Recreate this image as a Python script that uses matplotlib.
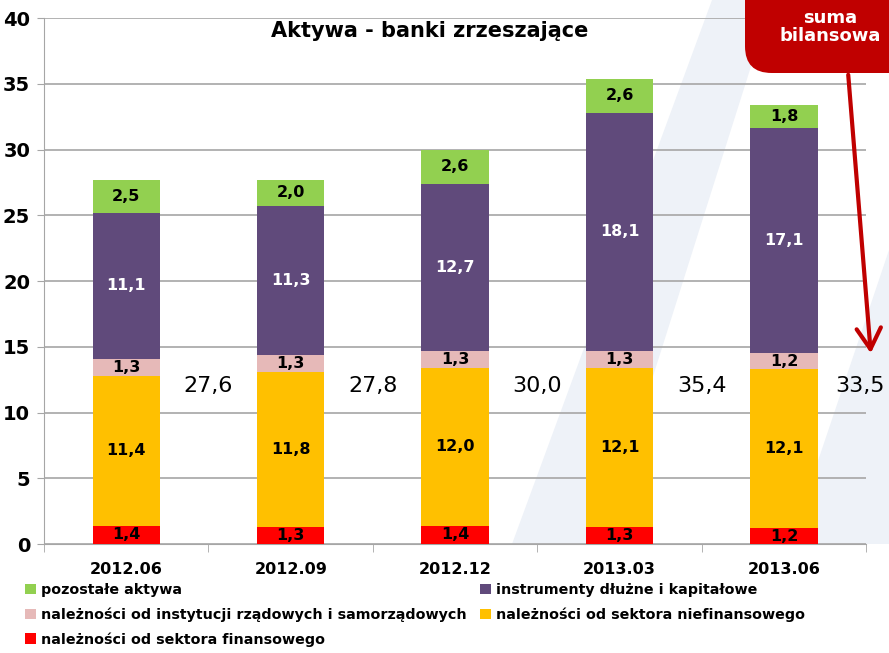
import numpy as np
import matplotlib
matplotlib.use('Agg')
import matplotlib.pyplot as plt
from matplotlib.patches import FancyBboxPatch, Polygon, FancyArrowPatch

plt.rcParams['font.family'] = ['DejaVu Sans']

# =========================
# Data
# =========================
okresy = ['2012.06', '2012.09', '2012.12', '2013.03', '2013.06']
finansowy = [1.4, 1.3, 1.4, 1.3, 1.2]
niefinansowy = [11.4, 11.8, 12.0, 12.1, 12.1]
rzadowe = [1.3, 1.3, 1.3, 1.3, 1.2]
instrumenty = [11.1, 11.3, 12.7, 18.1, 17.1]
pozostale = [2.5, 2.0, 2.6, 2.6, 1.8]
suma = [27.6, 27.8, 30.0, 35.4, 33.5]

serie = [
    ('należności od sektora finansowego', finansowy, '#ff0000', 'black'),
    ('należności od sektora niefinansowego', niefinansowy, '#ffc000', 'black'),
    ('należności od instytucji rządowych i samorządowych', rzadowe, '#e6b9b8', 'black'),
    ('instrumenty dłużne i kapitałowe', instrumenty, '#604a7b', 'white'),
    ('pozostałe aktywa', pozostale, '#92d050', 'black'),
]

W, H = 889, 653


def px(x, y):
    # piksele -> ulamek figury
    return (x / W, 1 - y / H)


# =========================
# Figure
# =========================
fig = plt.figure(figsize=(W / 100, H / 100), dpi=100)

# znak wodny w tle
for pts in [[(712, 0), (772, 0), (600, 544), (512, 544)],
            [(889, 250), (889, 544), (790, 544)]]:
    fig.patches.append(Polygon([px(*p) for p in pts], closed=True,
                               transform=fig.transFigure, facecolor='#eef2f8',
                               edgecolor='none', zorder=-5))

ax = fig.add_axes([0.0495, 0.1669, 0.925, 0.8055], zorder=1)
ax.set_facecolor('none')

x = np.arange(len(okresy))
bottom = np.zeros(len(okresy))
handles = {}
for nazwa, vals, kolor, kol_txt in serie:
    vals = np.array(vals)
    b = ax.bar(x, vals, 0.41, bottom=bottom, color=kolor, label=nazwa, zorder=3)
    handles[nazwa] = b
    for xi, v, b0 in zip(x, vals, bottom):
        ax.text(xi, b0 + v / 2, f'{v:.1f}'.replace('.', ','), ha='center', va='center',
                fontsize=11.5, fontweight='bold', color=kol_txt, zorder=4)
    bottom = bottom + vals

# sumy bilansowe miedzy slupkami (ostatnia przesunieta, by nie wyjsc poza obraz)
for xi, s in zip(np.minimum(x + 0.5, 4.46), suma):
    ax.text(xi, 12.0, f'{s:.1f}'.replace('.', ','), ha='center', va='center',
            fontsize=16, color='black', zorder=4, clip_on=False)

ax.set_xlim(-0.5, 4.5)
ax.set_ylim(0, 40)
ax.set_yticks(np.arange(0, 41, 5))
ax.yaxis.grid(True, color='#a6a6a6', linewidth=1.2, zorder=0)
ax.set_axisbelow(True)

ax.set_xticks(x)
ax.set_xticklabels(okresy, fontsize=11.5, fontweight='bold')
ax.set_xticks(np.arange(-0.5, 5, 1), minor=True)
ax.tick_params(axis='x', which='major', length=0, pad=13)
ax.tick_params(axis='x', which='minor', length=6, color='#a6a6a6')
ax.tick_params(axis='y', length=5, color='#a6a6a6', labelsize=14, pad=5)
for lbl in ax.get_yticklabels():
    lbl.set_fontweight('bold')

for side in ['top', 'right']:
    ax.spines[side].set_visible(False)
ax.spines['left'].set_color('#a6a6a6')
ax.spines['bottom'].set_color('#a6a6a6')

fig.text(*px(430, 31), 'Aktywa - banki zrzeszające', ha='center', va='center',
         fontsize=15, fontweight='bold')

# legenda w dwoch kolumnach
lewa = ['pozostałe aktywa',
        'należności od instytucji rządowych i samorządowych',
        'należności od sektora finansowego']
prawa = ['instrumenty dłużne i kapitałowe',
         'należności od sektora niefinansowego']
opcje = dict(loc='upper left', frameon=False, prop={'size': 10.3, 'weight': 'bold'},
             handlelength=0.75, handleheight=0.75, handletextpad=0.4,
             labelspacing=0.72, borderaxespad=0, borderpad=0)
fig.legend([handles[k] for k in lewa], lewa, bbox_to_anchor=px(25, 583), **opcje)
fig.legend([handles[k] for k in prawa], prawa, bbox_to_anchor=px(480, 583), **opcje)

# ramka "suma bilansowa"
x0, y0 = px(745, 73)
box = FancyBboxPatch((x0, y0), 0.25, 0.2, boxstyle='round,pad=0,rounding_size=0.03',
                     transform=fig.transFigure, facecolor='#c00000', edgecolor='none',
                     zorder=10, mutation_aspect=W / H)
fig.patches.append(box)
fig.text(*px(830, 27), 'suma\nbilansowa', ha='center', va='center', color='white',
         fontsize=13, fontweight='bold', linespacing=1.05, zorder=11)
fig.patches.append(FancyArrowPatch(
    px(848, 72), px(871, 356), transform=fig.transFigure,
    arrowstyle='->,head_length=0.6,head_width=0.35', color='#c00000', linewidth=3,
    zorder=10, mutation_scale=25))

fig.savefig('out.png', dpi=100)
